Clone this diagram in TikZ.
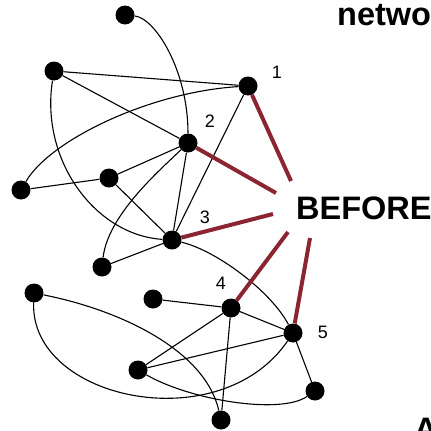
\documentclass[tikz,border=0pt]{standalone}
\usepackage{fontspec}
\setmainfont{Liberation Sans}
\usepackage{xcolor}
\usepackage{tikz}
\definecolor{linkred}{HTML}{8B2532}

\begin{document}
\begin{tikzpicture}[
    x=1pt, y=-1pt,
    vertex/.style={circle, fill=black, minimum size=19pt, inner sep=0pt},
    tag/.style={font=\fontsize{18}{18}\selectfont, inner sep=0pt},
    edge/.style={draw=black, line width=1.1pt},
    hub/.style={draw=linkred, line width=4pt},
    caption/.style={font=\fontsize{32.5}{32.5}\selectfont\bfseries, inner sep=0pt, anchor=base west}
]
\useasboundingbox (0,0) rectangle (431,431);
\clip (0,0) rectangle (431,431);

% Vertices (numbered ones are the hubs)
\node[vertex] (a)  at (125,15)  {};
\node[vertex] (b)  at (54,71)   {};
\node[vertex] (n1) at (248,86)  {};
\node[vertex] (n2) at (188,143) {};
\node[vertex] (c)  at (21,190)  {};
\node[vertex] (d)  at (109,178) {};
\node[vertex] (n3) at (172,240) {};
\node[vertex] (e)  at (102,267) {};
\node[vertex] (f)  at (34,293)  {};
\node[vertex] (g)  at (153,299) {};
\node[vertex] (n4) at (231,308) {};
\node[vertex] (n5) at (293,333) {};
\node[vertex] (h)  at (138,370) {};
\node[vertex] (i)  at (315,391) {};
\node[vertex] (j)  at (221,420) {};

\node[tag] (t1) at (277,72)  {1};
\node[tag] (t2) at (210,121) {2};
\node[tag] (t3) at (205,217) {3};
\node[tag] (t4) at (221,283) {4};
\node[tag] (t5) at (323,332) {5};

% Captions
\node[caption] (net)    at (337,25)  {network};
\node[caption] (before) at (296,219) {BEFORE};
\node[caption] (after)  at (414,440) {AFTER};

% Straight edges
\draw[edge] (b) -- (n1);
\draw[edge] (b) -- (n2);
\draw[edge] (n1) -- (n3);
\draw[edge] (n2) -- (d);
\draw[edge] (n2) -- (n3);
\draw[edge] (d) -- (c);
\draw[edge] (d) -- (n3);
\draw[edge] (n3) -- (e);
\draw[edge] (g) -- (n4);
\draw[edge] (n4) -- (n5);
\draw[edge] (n4) -- (h);
\draw[edge] (n4) -- (j);
\draw[edge] (h) -- (n5);
\draw[edge] (n5) -- (i);

% Curved edges
\draw[edge] (a) .. controls (155,18) and (188,70) .. (n2);
\draw[edge] (b) .. controls (40,160) and (95,235) .. (n3);
\draw[edge] (n1) .. controls (150,92) and (50,140) .. (c);
\draw[edge] (n2) .. controls (160,170) and (108,215) .. (e);
\draw[edge] (n3) .. controls (215,250) and (270,290) .. (n5);
\draw[edge] (f) .. controls (120,310) and (205,350) .. (j);
\draw[edge] (f) .. controls (30,400) and (220,440) .. (n5);
\draw[edge] (h) .. controls (190,400) and (280,415) .. (i);

% Hub links
\coordinate (r1) at (291,181);
\coordinate (r2) at (276,193);
\coordinate (r3) at (273,214);
\coordinate (r4) at (288,232);
\coordinate (r5) at (310,238);
\draw[hub] (n1) -- (r1);
\draw[hub] (n2) -- (r2);
\draw[hub] (n3) -- (r3);
\draw[hub] (n4) -- (r4);
\draw[hub] (n5) -- (r5);

\end{tikzpicture}
\end{document}
